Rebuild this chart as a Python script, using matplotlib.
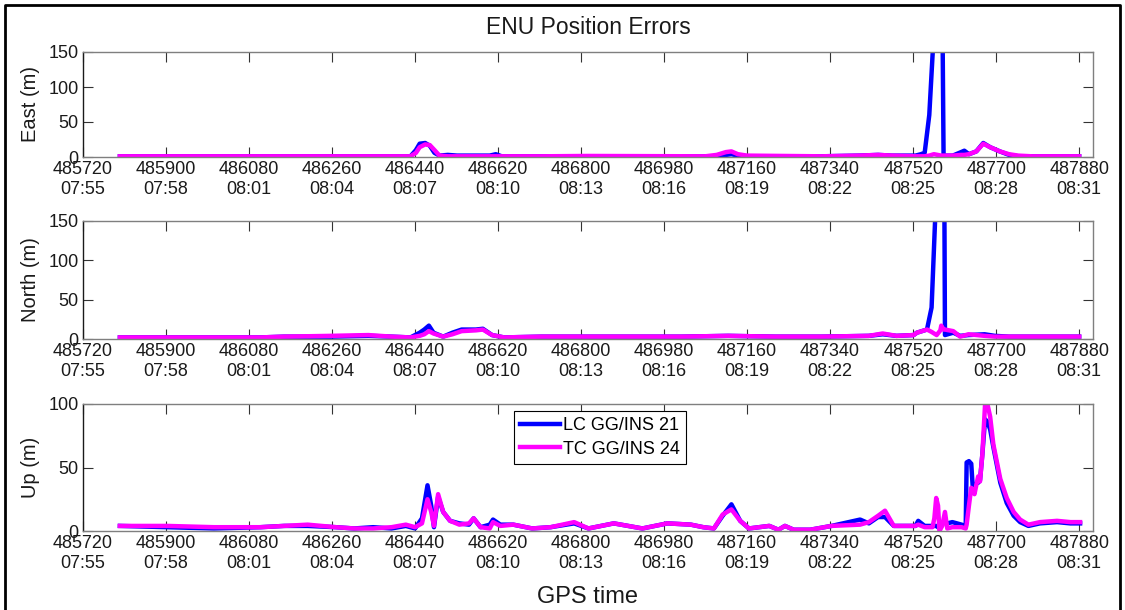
import matplotlib
matplotlib.use("Agg")
import matplotlib.pyplot as plt
from matplotlib.lines import Line2D

# -------------------------------------------------------------
# Data (GPS seconds of week, metres)
# -------------------------------------------------------------
tick_secs = [485720, 485900, 486080, 486260, 486440, 486620, 486800,
             486980, 487160, 487340, 487520, 487700, 487880]
tick_clock = ["07:55", "07:58", "08:01", "08:04", "08:07", "08:10", "08:13",
              "08:16", "08:19", "08:22", "08:25", "08:28", "08:31"]
x_end = 487910

series_names = ["LC GG/INS 21", "TC GG/INS 24"]

east_t = [485800, 486105, 486430, 486442, 486450, 486462, 486472, 486482,
          486493, 486511, 486531, 486602, 486615, 486628, 486714, 486815,
          487069, 487094, 487114, 487126, 487140, 487160, 487322, 487403,
          487444, 487474, 487525, 487537, 487545, 487555, 487565, 487573,
          487581, 487586, 487606, 487624, 487631, 487641, 487657, 487672,
          487687, 487708, 487728, 487748, 487778, 487880]
east_lc = [1, 1, 1, 10, 19, 20, 16, 6,
           2, 3, 2, 2, 4, 1, 1, 1,
           1, 1, 3, 4, 2, 1, 1, 2,
           3, 2, 2, 4, 6, 60, 180, 400,
           400, 2, 2, 7, 9, 4, 8, 20,
           14, 8, 3, 1, 1, 1]
east_tc = [1, 1, 1, 6, 14, 18, 17, 10,
           2, 1, 1, 1, 1, 1, 1, 1.5,
           1, 3, 7, 8, 4, 2, 1, 2,
           3, 2, 1, 1, 1, 2, 4, 3,
           2, 2, 2, 3, 3, 4, 8, 19,
           14, 8, 4, 2, 1, 1]

north_t = [485800, 486105, 486156, 486257, 486339, 486389, 486430, 486450,
           486460, 486470, 486480, 486501, 486521, 486541, 486572, 486587,
           486607, 486633, 486714, 486815, 486917, 487018, 487119, 487221,
           487322, 487424, 487454, 487484, 487521, 487528, 487550, 487560,
           487571, 487579, 487581, 487586, 487589, 487607, 487622, 487640,
           487675, 487697, 487728, 487829, 487880]
north_lc = [2, 2, 3, 3, 4, 3, 2, 8,
            12, 17, 8, 3, 8, 12, 12, 13,
            5, 2, 3, 3, 3, 3, 4, 3,
            3, 4, 6, 4, 5, 8, 12, 40,
            200, 400, 400, 400, 5, 8, 4, 5,
            6, 4, 3, 3, 3]
north_tc = [2, 2, 3, 4, 5, 3, 2, 4,
            6, 10, 7, 3, 6, 10, 11, 12,
            5, 2, 3, 3, 3, 3, 4, 3,
            3, 4, 7, 4, 5, 8, 12, 9,
            5, 11, 17, 12, 12, 10, 3, 6,
            4, 3, 3, 3, 3]

up_t = [485800, 485903, 486004, 486105, 486156, 486207, 486268, 486308,
        486349, 486389, 486420, 486440, 486455, 486467, 486475, 486481,
        486490, 486501, 486516, 486536, 486557, 486567, 486582, 486602,
        486609, 486625, 486653, 486694, 486734, 486785, 486816, 486871,
        486933, 486987, 487038, 487065, 487088, 487107, 487126, 487145,
        487164, 487208, 487228, 487242, 487261, 487297, 487343, 487405,
        487424, 487444, 487459, 487478, 487515, 487525,
        487531, 487545, 487562, 487566, 487570, 487574, 487577, 487583,
        487589, 487594, 487605, 487625, 487634, 487636, 487641, 487646,
        487649, 487653, 487658, 487661, 487665, 487670, 487676, 487681,
        487687, 487694, 487709, 487723, 487738, 487752, 487770, 487795,
        487832, 487861, 487882]
up_lc = [4, 3, 2, 3, 4, 4, 3, 2,
         3, 2, 4, 2, 10, 36, 20, 3,
         27, 15, 8, 6, 5, 10, 3, 5,
         9, 5, 5, 2, 3, 6, 2, 6,
         2, 6, 5, 3, 2, 12, 21, 8,
         2, 4, 1, 4, 1, 1, 4, 9,
         6, 11, 11, 4, 4, 4,
         8, 4, 4, 4, 4, 3, 2, 6,
         8, 6, 7, 5, 4, 54, 55, 53,
         36, 34, 38, 38, 40, 60, 88, 86,
         80, 66, 38, 22, 12, 7, 4, 6,
         7, 6, 6]
up_tc = [4, 4, 3, 3, 4, 5, 3, 2,
         2, 3, 5, 3, 6, 25, 15, 4,
         29, 15, 8, 5, 6, 10, 3, 2,
         7, 4, 5, 2, 3, 7, 2, 6,
         2, 6, 5, 3, 2, 13, 17, 8,
         2, 4, 1, 4, 1, 1, 4, 5,
         7, 12, 16, 4, 4, 4,
         5, 3, 3, 10, 26, 20, 0, 4,
         15, 2, 3, 3, 2, 5, 20, 34,
         32, 29, 38, 43, 39, 60, 100, 100,
         90, 68, 41, 26, 15, 9, 5, 7,
         8, 7, 7]


def style_axes(ax, yticks):
    ax.set_xlim(tick_secs[0], x_end)
    ax.set_ylim(yticks[0], yticks[-1])
    ax.set_xticks(tick_secs)
    ax.set_xticklabels([f"{s}\n{c}" for s, c in zip(tick_secs, tick_clock)])
    ax.set_yticks(yticks)
    ax.tick_params(direction="in", length=7, width=0.8, color="#333333",
                   top=True, right=True, labelsize=13, pad=3,
                   labelcolor="#1a1a1a")
    for side in ["top", "right", "bottom"]:
        ax.spines[side].set_color("#7f7f7f")
        ax.spines[side].set_linewidth(1.0)
    ax.spines["left"].set_color("#1a1a1a")
    ax.spines["left"].set_linewidth(1.0)


def main():
    plt.rcParams["font.family"] = ["Liberation Sans", "DejaVu Sans"]

    fig = plt.figure(figsize=(11.25, 6.10), dpi=100)
    W, H = 1125.0, 610.0
    left, right = 83 / W, 1093 / W

    # pixel rows of each panel (top, bottom)
    rows = [(52, 157), (221, 339), (404, 531)]
    panels = [
        ("East (m)", east_t, east_lc, east_tc, [0, 50, 100, 150]),
        ("North (m)", north_t, north_lc, north_tc, [0, 50, 100, 150]),
        ("Up (m)", up_t, up_lc, up_tc, [0, 50, 100]),
    ]

    axes = []
    for (top, bot), (ylab, t, lc, tc, yt) in zip(rows, panels):
        ax = fig.add_axes([left, 1 - bot / H, right - left, (bot - top) / H])
        ax.plot(t, lc, color="#0000ff", lw=3.2, label=series_names[0])
        ax.plot(t, tc, color="#ff00ff", lw=3.2, label=series_names[1])
        style_axes(ax, yt)
        ax.set_ylabel(ylab, fontsize=14.5, color="#1a1a1a")
        ax.yaxis.set_label_coords(-0.043, 0.5)
        axes.append(ax)

    handles = [Line2D([], [], color="#0000ff", lw=3.2),
               Line2D([], [], color="#ff00ff", lw=3.2)]
    leg = axes[2].legend(handles, series_names, loc="upper left",
                         bbox_to_anchor=(0.4267, 0.945), borderaxespad=0,
                         fontsize=13, handlelength=2.2, handletextpad=0.15,
                         labelspacing=0.35, borderpad=0.35, fancybox=False,
                         framealpha=1)
    leg.get_frame().set_edgecolor("black")
    leg.get_frame().set_linewidth(0.8)

    cx = (83 + 1093) / 2 / W
    fig.text(cx, 1 - 28 / H, "ENU Position Errors", ha="center", va="center",
             fontsize=16.5, color="#1a1a1a")
    fig.text(cx, 1 - 597 / H, "GPS time", ha="center", va="center",
             fontsize=17, color="#1a1a1a")

    # outer black frame (open at the bottom edge, as in the picture)
    fx0, fx1, fy = 5 / W, 1120 / W, 1 - 5 / H
    fig.add_artist(Line2D([fx0, fx0, fx1, fx1], [0, fy, fy, 0],
                          transform=fig.transFigure, color="black", lw=2))

    fig.savefig("out.png", dpi=100)
    plt.close(fig)


if __name__ == "__main__":
    main()
